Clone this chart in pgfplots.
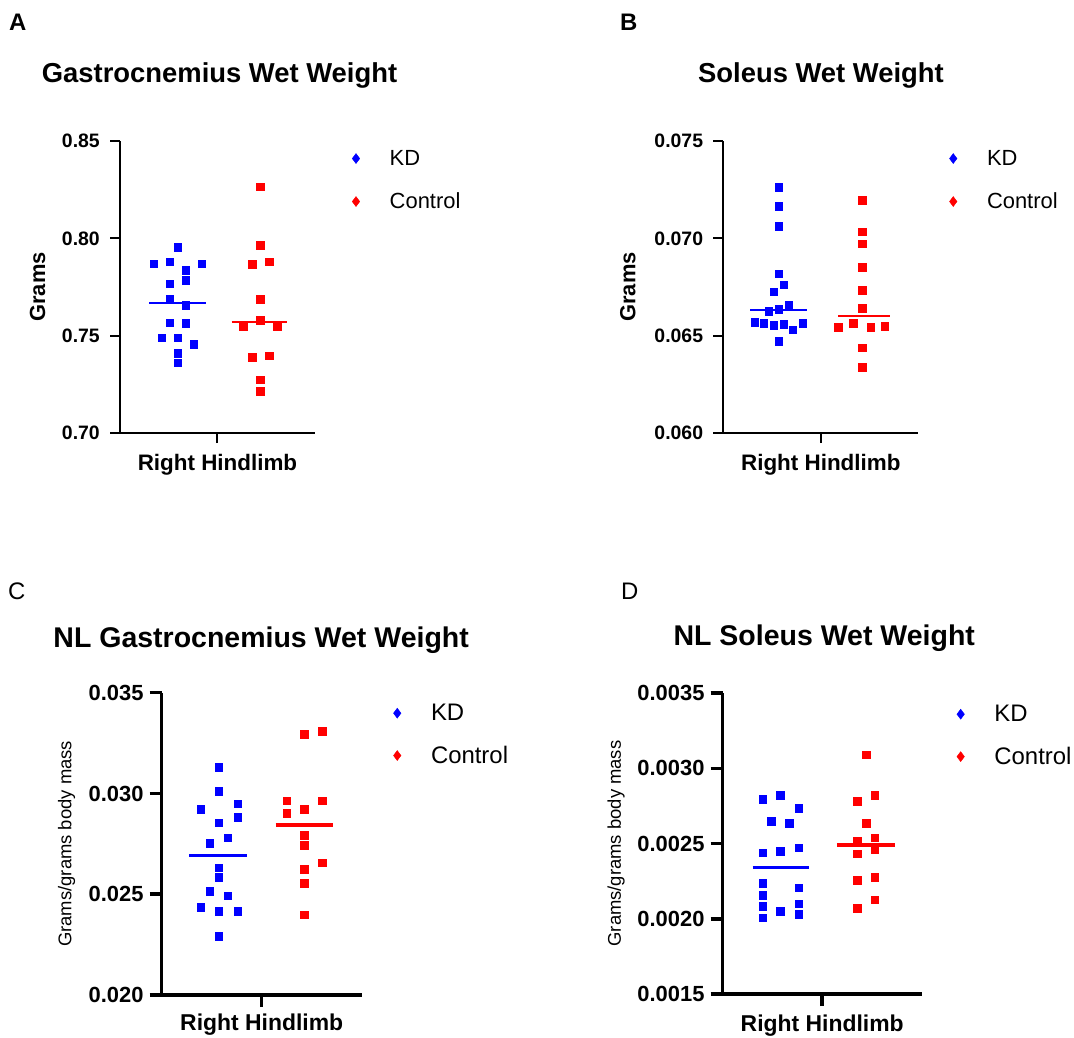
\documentclass[border=0pt]{standalone}
\usepackage{pgfplots}
\pgfplotsset{compat=1.18}
\usepackage{fontspec}
\setmainfont{Liberation Sans}
\newcommand{\fs}[1]{\fontsize{#1}{#1}\selectfont}

\pgfplotsset{
  panel/.style={
    scale only axis,
    axis x line=bottom, axis y line=left,
    axis line style={-, black},
    tick align=outside,
    xtick={0}, xticklabels={},
    scaled y ticks=false,
    clip=false,
    /pgf/number format/assume math mode=true,
    legend cell align=left,
    legend image code/.code={\draw[##1] plot coordinates {(0bp,0bp)};},
  },
  panelAB/.style={
    panel,
    width=195bp, height=292bp,
    xmin=-97.5, xmax=97.5,
    axis line style={line width=2bp},
    major tick length=10bp, tick style={line width=2bp, black},
    yticklabel style={font=\bfseries\fs{19.5}, inner sep=0pt, xshift=-10bp},
    ylabel style={font=\bfseries\fs{22}, inner sep=0pt, anchor=center},
    xlabel style={at={(axis description cs:0.5,-0.1267)}, anchor=base, font=\bfseries\fs{22.5}, inner sep=0pt},
    title style={anchor=base west, font=\bfseries\fs{27.5}, inner sep=0pt},
    legend style={draw=none, fill=none, inner sep=0pt, anchor=north west,
      font=\fs{22}, row sep=26bp, column sep=30bp, nodes={inner sep=0pt}},
  },
  panelCD/.style={
    panel,
    axis line style={line width=3.5bp},
    major tick length=12bp, tick style={line width=3.5bp, black},
    yticklabel style={font=\bfseries\fs{22}, inner sep=0pt, xshift=-6bp},
    ylabel style={font=\fs{18.5}, inner sep=0pt, anchor=center},
    xlabel style={anchor=base, font=\bfseries\fs{23}, inner sep=0pt},
    title style={anchor=base west, font=\bfseries\fs{28.6}, inner sep=0pt},
    legend style={draw=none, fill=none, inner sep=0pt, anchor=north west,
      font=\fs{24}, row sep=24bp, column sep=30bp, nodes={inner sep=0pt}},
  },
  kdpt/.style={only marks, mark=square*, mark size=3.8bp, blue, forget plot},
  ctpt/.style={only marks, mark=square*, mark size=3.8bp, red, forget plot},
  legmk/.style={only marks, mark=diamond*, mark size=5bp},
}

\begin{document}
\begin{tikzpicture}
\useasboundingbox (0,0) rectangle (1074bp,-1038bp);

% Panel letters
\node[anchor=base west, inner sep=0pt, font=\bfseries\fs{24}] at (9bp,-30bp) {A};
\node[anchor=base west, inner sep=0pt, font=\bfseries\fs{24}] at (620bp,-30bp) {B};
\node[anchor=base west, inner sep=0pt, font=\fs{24}] at (8bp,-599bp) {C};
\node[anchor=base west, inner sep=0pt, font=\fs{24}] at (621bp,-599bp) {D};

% ---------------- A ----------------
\begin{axis}[panelAB,
  at={(120bp,-433bp)}, anchor=south west,
  ymin=0.70, ymax=0.85,
  ytick={0.70,0.75,0.80,0.85}, yticklabels={0.70,0.75,0.80,0.85},
  ylabel={Grams}, ylabel style={at={(axis description cs:-0.423,0.5)}},
  xlabel={Right Hindlimb},
  title={Gastrocnemius Wet Weight}, title style={at={(axis description cs:-0.4015,1.1815)}},
  legend style={at={(axis description cs:1.19,0.969)}},
]
\addlegendimage{legmk, blue}
\addlegendentry{KD}
\addlegendimage{legmk, red}
\addlegendentry{Control}
\addplot[kdpt] coordinates {(-40,0.7954) (-64,0.7870) (-48,0.7879) (-16,0.7870) (-32,0.7836) (-32,0.7786) (-48,0.7768) (-48,0.7687) (-32,0.7658) (-48,0.7567) (-32,0.7564) (-56,0.7489) (-40,0.7489) (-24,0.7455) (-40,0.7410) (-40,0.7362)};
\addplot[blue, line width=2bp, forget plot] coordinates {(-68.2,0.767) (-11.8,0.767)};
\addplot[ctpt] coordinates {(43,0.8265) (43,0.7964) (34.5,0.7868) (51.5,0.7880) (43,0.7687) (43,0.7579) (26,0.7550) (60,0.7550) (34.5,0.7388) (51.5,0.7397) (43,0.7274) (43,0.7215)};
\addplot[red, line width=2bp, forget plot] coordinates {(14.2,0.7568) (69.2,0.7568)};
\end{axis}

% ---------------- B ----------------
\begin{axis}[panelAB,
  at={(723.3bp,-433bp)}, anchor=south west,
  ymin=0.060, ymax=0.075,
  ytick={0.060,0.065,0.070,0.075}, yticklabels={0.060,0.065,0.070,0.075},
  ylabel={Grams}, ylabel style={at={(axis description cs:-0.49,0.5)}},
  xlabel={Right Hindlimb},
  title={Soleus Wet Weight}, title style={at={(axis description cs:-0.13,1.1815)}},
  legend style={at={(axis description cs:1.159,0.969)}},
]
\addlegendimage{legmk, blue}
\addlegendentry{KD}
\addlegendimage{legmk, red}
\addlegendentry{Control}
\addplot[kdpt] coordinates {(-42,0.07263) (-42,0.07166) (-42,0.07063) (-42,0.06819) (-37,0.06761) (-47,0.06726) (-32,0.06656) (-52,0.06627) (-42,0.06636) (-66,0.06568) (-57,0.06564) (-47,0.06554) (-37,0.06559) (-18,0.06564) (-28,0.06530) (-42,0.06472)};
\addplot[blue, line width=2bp, forget plot] coordinates {(-70.8,0.06631) (-14.1,0.06631)};
\addplot[ctpt] coordinates {(41.5,0.07195) (41.5,0.07034) (41.5,0.06973) (41.5,0.06853) (41.5,0.06735) (41.5,0.06641) (32.5,0.06564) (17.5,0.06542) (50,0.06542) (64,0.06550) (41.5,0.06439) (41.5,0.06337)};
\addplot[red, line width=2bp, forget plot] coordinates {(17.5,0.06601) (69.2,0.06601)};
\end{axis}

% ---------------- C ----------------
\begin{axis}[panelCD,
  at={(161.7bp,-995bp)}, anchor=south west,
  width=200bp, height=302.3bp,
  xmin=-100, xmax=100,
  ymin=0.020, ymax=0.035,
  ytick={0.020,0.025,0.030,0.035}, yticklabels={0.020,0.025,0.030,0.035},
  ylabel={Grams/grams body mass}, ylabel style={at={(axis description cs:-0.475,0.5)}},
  xlabel={Right Hindlimb}, xlabel style={at={(axis description cs:0.5,-0.119)}},
  title={NL Gastrocnemius Wet Weight}, title style={at={(axis description cs:-0.542,1.130)}},
  legend style={at={(axis description cs:1.158,0.9626)}},
]
\addlegendimage{legmk, blue}
\addlegendentry{KD}
\addlegendimage{legmk, red}
\addlegendentry{Control}
\addplot[kdpt] coordinates {(-43,0.03129) (-43,0.03012) (-24,0.02950) (-61,0.02922) (-24,0.02882) (-43,0.02856) (-34,0.02781) (-52,0.02752) (-43,0.02632) (-43,0.02586) (-52,0.02515) (-34,0.02493) (-61,0.02437) (-43,0.02416) (-24,0.02416) (-43,0.02293)};
\addplot[blue, line width=3.5bp, forget plot] coordinates {(-72.4,0.02692) (-14.4,0.02692)};
\addplot[ctpt] coordinates {(60.6,0.03310) (42.3,0.03293) (25,0.02964) (60.6,0.02964) (42.3,0.02922) (25,0.02901) (42.3,0.02793) (42.3,0.02743) (60.6,0.02657) (42.3,0.02623) (42.3,0.02556) (42.3,0.02399)};
\addplot[red, line width=3.5bp, forget plot] coordinates {(14,0.02843) (71.6,0.02843)};
\end{axis}

% ---------------- D ----------------
\begin{axis}[panelCD,
  at={(722.7bp,-994bp)}, anchor=south west,
  width=199bp, height=301bp,
  xmin=-99.5, xmax=99.5,
  ymin=0.0015, ymax=0.0035,
  ytick={0.0015,0.0020,0.0025,0.0030,0.0035}, yticklabels={0.0015,0.0020,0.0025,0.0030,0.0035},
  ylabel={Grams/grams body mass}, ylabel style={at={(axis description cs:-0.536,0.5)}},
  xlabel={Right Hindlimb}, xlabel style={at={(axis description cs:0.5,-0.123)}},
  title={NL Soleus Wet Weight}, title style={at={(axis description cs:-0.248,1.137)}},
  legend style={at={(axis description cs:1.176,0.960)}},
]
\addlegendimage{legmk, blue}
\addlegendentry{KD}
\addlegendimage{legmk, red}
\addlegendentry{Control}
\addplot[kdpt] coordinates {(-59.7,0.002793) (-42,0.002822) (-23.7,0.002733) (-51.3,0.002647) (-33,0.002633) (-59.7,0.002438) (-42,0.002449) (-23.7,0.002471) (-59.7,0.002238) (-23.7,0.002207) (-59.7,0.002156) (-59.7,0.002082) (-23.7,0.002100) (-42,0.002051) (-23.7,0.002029) (-59.7,0.002007)};
\addplot[blue, line width=3.5bp, forget plot] coordinates {(-69.7,0.002340) (-13.7,0.002340)};
\addplot[ctpt] coordinates {(43.7,0.003089) (52.3,0.002822) (34.7,0.002782) (43.7,0.002633) (52.3,0.002538) (34.7,0.002516) (52.3,0.002462) (34.7,0.002433) (52.3,0.002278) (34.7,0.002256) (52.3,0.002127) (34.7,0.002071)};
\addplot[red, line width=3.5bp, forget plot] coordinates {(14.7,0.002489) (72.3,0.002489)};
\end{axis}
\end{tikzpicture}
\end{document}
